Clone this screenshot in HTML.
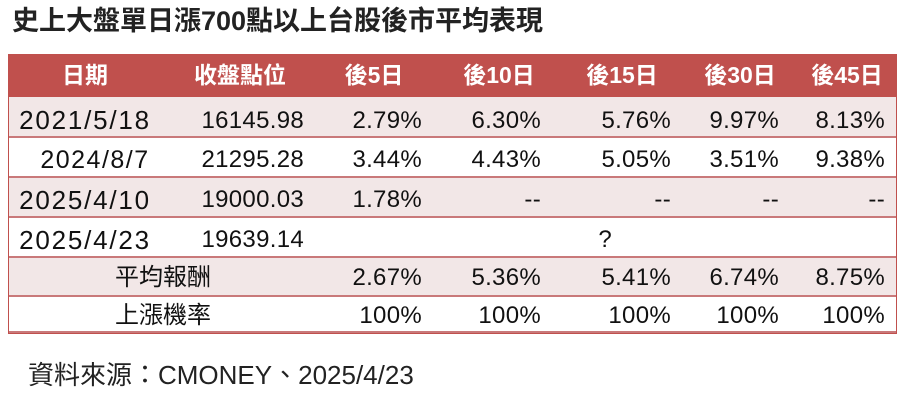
<!DOCTYPE html>
<html><head><meta charset="utf-8"><style>
body{margin:0;width:899px;height:405px;background:#fff;position:relative;overflow:hidden;font-family:"Liberation Sans","Noto Sans CJK TC",sans-serif;color:#111}
.a{position:absolute;white-space:nowrap;line-height:1}
.row{position:absolute;left:9px;width:887px;border-bottom:2px solid #c9797a}
.h{color:#fff;font-weight:bold;font-size:23px;transform:translateX(-50%)}
.v{font-size:24px;transform:translateX(-100%);letter-spacing:0.3px}
.c{font-size:24px;transform:translateX(-50%)}
.d{font-size:26px;letter-spacing:1.8px;transform:translateX(-50%)}
</style></head><body>
<div class="a" style="left:12px;top:8px;font-size:27px;font-weight:bold;color:#222">史上大盤單日漲700點以上台股後市平均表現</div>
<div style="position:absolute;left:8px;top:54px;width:887px;height:279px;border:1px solid #c0504d;border-top:0"></div>
<div class="row" style="top:54px;height:43px;background:#c0504d;border:0"></div>
<div class="row" style="top:97px;height:39px;background:#f2e7e7"></div>
<div class="row" style="top:138px;height:38px;background:#fff"></div>
<div class="row" style="top:178px;height:38px;background:#f2e7e7"></div>
<div class="row" style="top:218px;height:38px;background:#fff"></div>
<div class="row" style="top:258px;height:37px;background:#f2e7e7"></div>
<div class="row" style="top:297px;height:34px;background:#fff"></div>
<div class="a h" style="left:85px;top:64px">日期</div>
<div class="a h" style="left:240px;top:64px">收盤點位</div>
<div class="a h" style="left:374px;top:64px">後5日</div>
<div class="a h" style="left:499px;top:64px">後10日</div>
<div class="a h" style="left:622px;top:64px">後15日</div>
<div class="a h" style="left:740px;top:64px">後30日</div>
<div class="a h" style="left:847px;top:64px">後45日</div>

<div class="a d" style="left:85px;top:107px">2021/5/18</div>
<div class="a v" style="left:304px;top:109px">16145.98</div>
<div class="a v" style="left:422px;top:109px">2.79%</div>
<div class="a v" style="left:541px;top:109px">6.30%</div>
<div class="a v" style="left:671px;top:109px">5.76%</div>
<div class="a v" style="left:779px;top:109px">9.97%</div>
<div class="a v" style="left:885px;top:109px">8.13%</div>

<div class="a c" style="left:95px;top:148px;font-size:25px;letter-spacing:1.5px">2024/8/7</div>
<div class="a v" style="left:304px;top:148px">21295.28</div>
<div class="a v" style="left:422px;top:148px">3.44%</div>
<div class="a v" style="left:541px;top:148px">4.43%</div>
<div class="a v" style="left:671px;top:148px">5.05%</div>
<div class="a v" style="left:779px;top:148px">3.51%</div>
<div class="a v" style="left:885px;top:148px">9.38%</div>

<div class="a d" style="left:85px;top:187px">2025/4/10</div>
<div class="a v" style="left:304px;top:188px">19000.03</div>
<div class="a v" style="left:422px;top:188px">1.78%</div>
<div class="a v" style="left:541px;top:188px">--</div>
<div class="a v" style="left:671px;top:188px">--</div>
<div class="a v" style="left:779px;top:188px">--</div>
<div class="a v" style="left:885px;top:188px">--</div>

<div class="a d" style="left:85px;top:227px">2025/4/23</div>
<div class="a v" style="left:304px;top:228px">19639.14</div>
<div class="a c" style="left:605px;top:228px">?</div>

<div class="a c" style="left:163px;top:266px">平均報酬</div>
<div class="a v" style="left:422px;top:266px">2.67%</div>
<div class="a v" style="left:541px;top:266px">5.36%</div>
<div class="a v" style="left:671px;top:266px">5.41%</div>
<div class="a v" style="left:779px;top:266px">6.74%</div>
<div class="a v" style="left:885px;top:266px">8.75%</div>

<div class="a c" style="left:163px;top:304px">上漲機率</div>
<div class="a v" style="left:422px;top:304px">100%</div>
<div class="a v" style="left:541px;top:304px">100%</div>
<div class="a v" style="left:671px;top:304px">100%</div>
<div class="a v" style="left:779px;top:304px">100%</div>
<div class="a v" style="left:885px;top:304px">100%</div>

<div class="a" style="left:28px;top:362px;font-size:26px;color:#222">資料來源：CMONEY、2025/4/23</div>
</body></html>
